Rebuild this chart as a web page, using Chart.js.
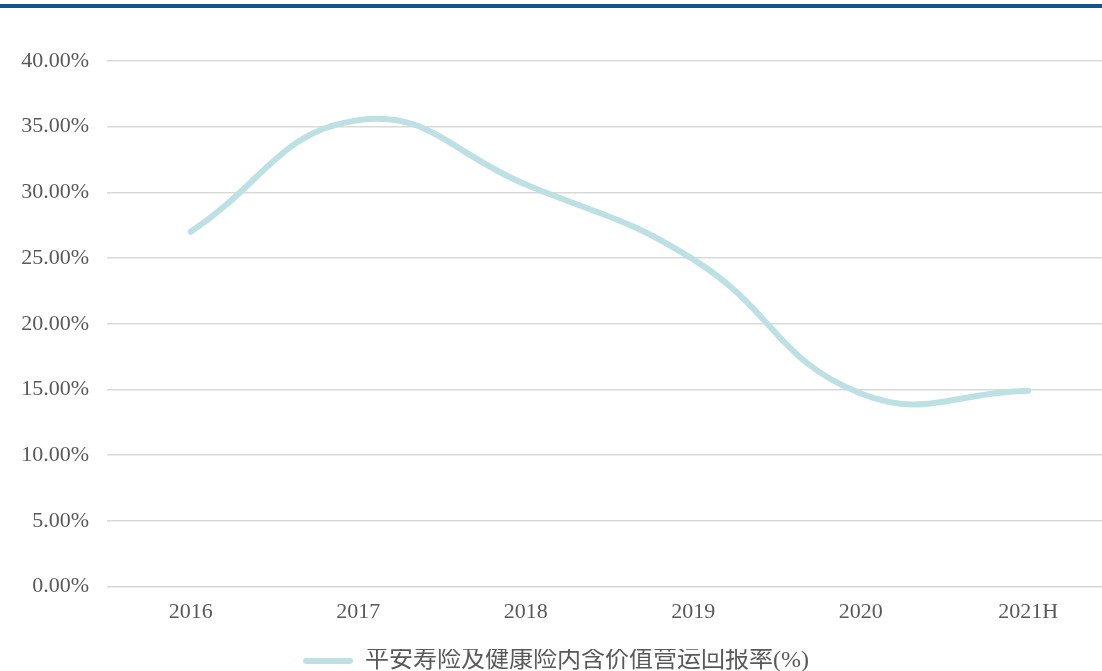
<!DOCTYPE html>
<html>
<head>
<meta charset="utf-8">
<script src="https://cdn.jsdelivr.net/npm/chart.js@4.4.1/dist/chart.umd.min.js"></script>
<style>
  html, body { margin: 0; padding: 0; background: #fff; overflow: hidden; }
  #topBar { position: absolute; left: 0; top: 4px; width: 1102px; height: 4px; background: #0d5491; }
  #wrap { position: absolute; left: 0; top: 0; width: 1112px; height: 671px; }
</style>
</head>
<body>
<div id="topBar"></div>
<div id="wrap"><canvas id="roeChart" width="1112" height="671"></canvas></div>
<script>
const years = ['2016', '2017', '2018', '2019', '2020', '2021H'];
const roeValues = [27.0, 35.5, 30.6, 24.9, 14.7, 14.9];
const yTicks = [0, 5, 10, 15, 20, 25, 30, 35, 40];
const seriesName = '平安寿险及健康险内含价值营运回报率(%)';

const lineColor = '#bde1e3';
const textColor = '#595959';
const fontFamily = "'Liberation Serif', 'Noto Sans CJK SC', serif";

const ctx = document.getElementById('roeChart').getContext('2d');

const roeChart = new Chart(ctx, {
    type: 'line',
    data: {
        labels: years,
        datasets: [{
            label: seriesName,
            data: roeValues,
            borderColor: lineColor,
            backgroundColor: lineColor,
            borderWidth: 6,
            borderCapStyle: 'round',
            tension: 0.45,
            pointRadius: 0,
            pointHoverRadius: 0,
            fill: false
        }]
    },
    options: {
        responsive: false,
        animation: false,
        devicePixelRatio: 1,
        layout: {
            padding: { top: 61, right: 0, bottom: -12, left: 0 }
        },
        plugins: {
            tooltip: { enabled: false },
            legend: {
                position: 'bottom',
                labels: {
                    color: textColor,
                    font: { family: fontFamily, size: 24 },
                    boxWidth: 50,
                    boxHeight: 6,
                    padding: 0,
                    useBorderRadius: true,
                    borderRadius: 3,
                    generateLabels: function (chart) {
                        return [{
                            text: seriesName,
                            fillStyle: lineColor,
                            strokeStyle: lineColor,
                            lineWidth: 0,
                            fontColor: textColor,
                            borderRadius: 3,
                            datasetIndex: 0
                        }];
                    }
                }
            }
        },
        scales: {
            x: {
                offset: true,
                grid: { display: false, drawTicks: false },
                border: { display: false },
                afterFit: function (scale) {
                    // leave room between the year labels and the legend
                    scale.height += 12;
                },
                ticks: {
                    color: textColor,
                    font: { family: fontFamily, size: 22 },
                    padding: 12,
                    maxRotation: 0
                }
            },
            y: {
                min: 0,
                max: 40,
                afterBuildTicks: function (scale) {
                    scale.ticks = yTicks.map(v => ({ value: v }));
                },
                afterFit: function (scale) {
                    scale.width = 107;
                },
                grid: {
                    color: '#d9d9d9',
                    lineWidth: 1.5,
                    drawTicks: false
                },
                border: { display: false },
                ticks: {
                    color: textColor,
                    font: { family: fontFamily, size: 22 },
                    padding: 18,
                    callback: function (value) {
                        return value.toFixed(2) + '%';
                    }
                }
            }
        }
    }
});
</script>
</body>
</html>
